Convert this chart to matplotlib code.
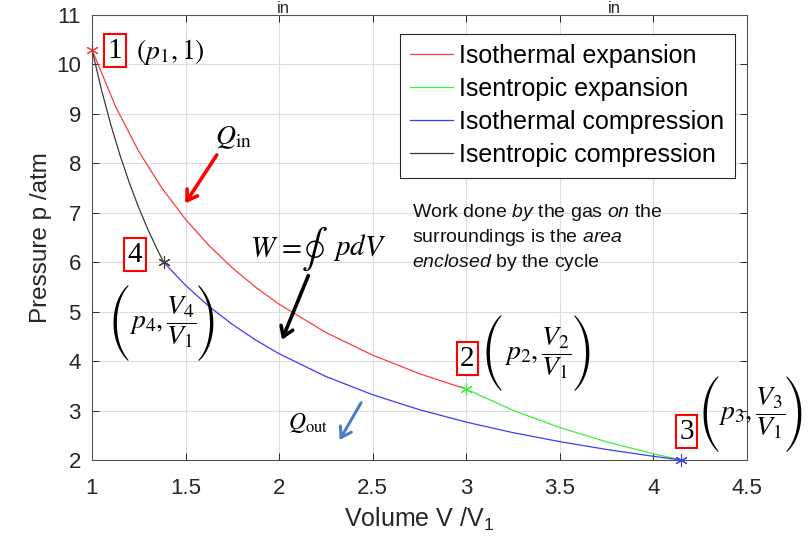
import matplotlib
matplotlib.use("Agg")
import matplotlib.pyplot as plt
from matplotlib.transforms import offset_copy

plt.rcParams['font.family'] = ['Liberation Sans', 'DejaVu Sans']
plt.rcParams['mathtext.fontset'] = 'custom'
plt.rcParams['mathtext.rm'] = 'Liberation Sans'
plt.rcParams['mathtext.it'] = 'Liberation Sans:italic'
plt.rcParams['mathtext.bf'] = 'Liberation Sans:bold'

# ---- data ----
V_iso_exp = [1.0, 1.125, 1.25, 1.375, 1.5, 1.625, 1.75, 1.875, 2.0, 2.25, 2.5, 2.75, 3.0]
p_iso_exp = [10.30, 9.156, 8.24, 7.491, 6.867, 6.338, 5.886, 5.493, 5.15, 4.578, 4.12, 3.745, 3.433]

V_isen_exp = [3.0, 3.25, 3.5, 3.75, 4.0, 4.149]
p_isen_exp = [3.433, 3.004, 2.655, 2.367, 2.125, 2.0]

V_iso_comp = [4.149, 4.0, 3.75, 3.5, 3.25, 3.0, 2.75, 2.5, 2.25, 2.0, 1.875, 1.75, 1.625, 1.5, 1.383]
p_iso_comp = [2.0, 2.0745, 2.213, 2.371, 2.553, 2.766, 3.017, 3.319, 3.688, 4.149, 4.426, 4.742, 5.107, 5.532, 6.0]

V_isen_comp = [1.383, 1.35, 1.30, 1.25, 1.20, 1.15, 1.10, 1.05, 1.0]
p_isen_comp = [6.0, 6.246, 6.652, 7.101, 7.601, 8.160, 8.788, 9.496, 10.30]

labels = ['Isothermal expansion', 'Isentropic expansion',
          'Isothermal compression', 'Isentropic compression']
colors = ['#ff3b3b', '#3bf03b', '#3b3bff', '#3a3a3a']

xticks = [1, 1.5, 2, 2.5, 3, 3.5, 4, 4.5]
xticklabels = ['1', '1.5', '2', '2.5', '3', '3.5', '4', '4.5']
yticks = [2, 3, 4, 5, 6, 7, 8, 9, 10, 11]

# ---- figure ----
fig = plt.figure(figsize=(8.12, 5.41), dpi=100)
ax = fig.add_axes([92/812, 1-460/541, (747-92)/812, (460-15)/541])

curves = [(V_iso_exp, p_iso_exp), (V_isen_exp, p_isen_exp),
          (V_iso_comp, p_iso_comp), (V_isen_comp, p_isen_comp)]
for (V, p), c, lab in zip(curves, colors, labels):
    ax.plot(V, p, color=c, lw=0.9, label=lab)
    ax.plot(V[0], p[0], marker=(6, 2, 0), color=c, ms=9, mew=0.8, ls='none',
            clip_on=False)

ax.set_xlim(1, 4.5)
ax.set_ylim(2, 11)
ax.set_xticks(xticks)
ax.set_xticklabels(xticklabels)
ax.set_yticks(yticks)
ax.grid(True, color='#dcdcdc', lw=0.8)
ax.set_axisbelow(True)
ax.tick_params(direction='in', top=True, right=True, labelsize=16,
               colors='#262626', length=5, width=0.7)
ax.tick_params(axis='x', pad=13)
ax.tick_params(axis='y', pad=8)
for s in ax.spines.values():
    s.set_color('#555555')
    s.set_linewidth(0.8)

ax.set_xlabel('Volume V /V$_{\\rm 1}$', fontsize=18, color='#262626', labelpad=5)
ax.set_ylabel('Pressure p /atm', fontsize=17.5, color='#262626', labelpad=3)

leg = ax.legend(loc='upper left', bbox_to_anchor=(0.470, 0.958), borderaxespad=0,
                fontsize=18, handlelength=1.7, handletextpad=0.25,
                labelspacing=0.36, borderpad=0.42, fancybox=False, framealpha=1)
leg.get_frame().set_edgecolor('#262626')
leg.get_frame().set_linewidth(0.8)

# ---- annotations ----
box = dict(boxstyle='square,pad=0.12', fc='white', ec='red', lw=1.5)
num_kw = dict(fontsize=21, family='Liberation Serif', ha='center', va='center',
              bbox=box, clip_on=False)
ax.text(1.123, 10.28, '1', **num_kw)
ax.text(1.230, 6.15, '4', **num_kw)
ax.text(3.006, 4.05, '2', **num_kw)
ax.text(4.178, 2.57, '3', **num_kw)

eq_kw = dict(fontsize=20, ha='center', va='center', math_fontfamily='stix', clip_on=False)
ax.text(1.417, 10.25, r'$(p_1,1)$', **eq_kw)

def coord_label(x, y, sub, dx=45):
    ax.text(x, y, r'$p_%s,\dfrac{V_%s}{V_1}$' % (sub, sub), **eq_kw)
    for sgn, ch in ((-1, '('), (1, ')')):
        tr = offset_copy(ax.transData, fig=fig, x=sgn * dx, y=0, units='dots')
        ax.text(x, y, ch, transform=tr, fontsize=22, family='STIXSizeThreeSym',
                ha='center', va='center', clip_on=False)

coord_label(1.380, 4.78, '4', dx=44)
coord_label(3.380, 4.16, '2')
coord_label(4.525, 2.94, '3', dx=43)

ax.text(1.754, 8.51, r'$Q_{\rm in}$', **eq_kw)

# W = (closed integral) p dV
ax.text(2.124, 6.30, r'$W\,=$', fontsize=21, ha='right', va='center',
        math_fontfamily='stix')
ax.text(2.190, 6.27, r'$\oint$', fontsize=28, ha='center', va='center',
        math_fontfamily='stix')
ax.text(2.290, 6.30, r'$pdV$', fontsize=21, ha='left', va='center',
        math_fontfamily='stix')

ax.text(2.263, 2.75, r'$Q_{\rm out}$', fontsize=17, ha='right', va='center',
        math_fontfamily='stix')

arr = dict(arrowstyle='->,head_length=0.7,head_width=0.45', lw=2.6, shrinkA=0, shrinkB=0)
ax.annotate('', xy=(1.498, 7.19), xytext=(1.667, 8.17),
            arrowprops=dict(arr, color='red'), annotation_clip=False)
ax.annotate('', xy=(2.015, 4.43), xytext=(2.156, 5.73),
            arrowprops=dict(arr, color='black'), annotation_clip=False)
ax.annotate('', xy=(2.323, 2.405), xytext=(2.438, 3.159),
            arrowprops=dict(arr, color='#4a7fc1', lw=2.2), annotation_clip=False)

work_lines = [r'Work done $by$ the gas $on$ the',
              r'surroundings is the $area$',
              r'$enclosed$ by the cycle']
for i, line in enumerate(work_lines):
    ax.text(2.711, 6.996 - i * 25/49.44, line, fontsize=14, ha='left', va='center',
            math_fontfamily='custom', color='#111111')

# fragments of the cut-off title at the top edge
fig.text(283/812, 1 - 13/541, 'in', fontsize=12, ha='center', va='baseline', color='#262626')
fig.text(614/812, 1 - 13/541, 'in', fontsize=12, ha='center', va='baseline', color='#262626')

fig.savefig('out.png', dpi=100)
